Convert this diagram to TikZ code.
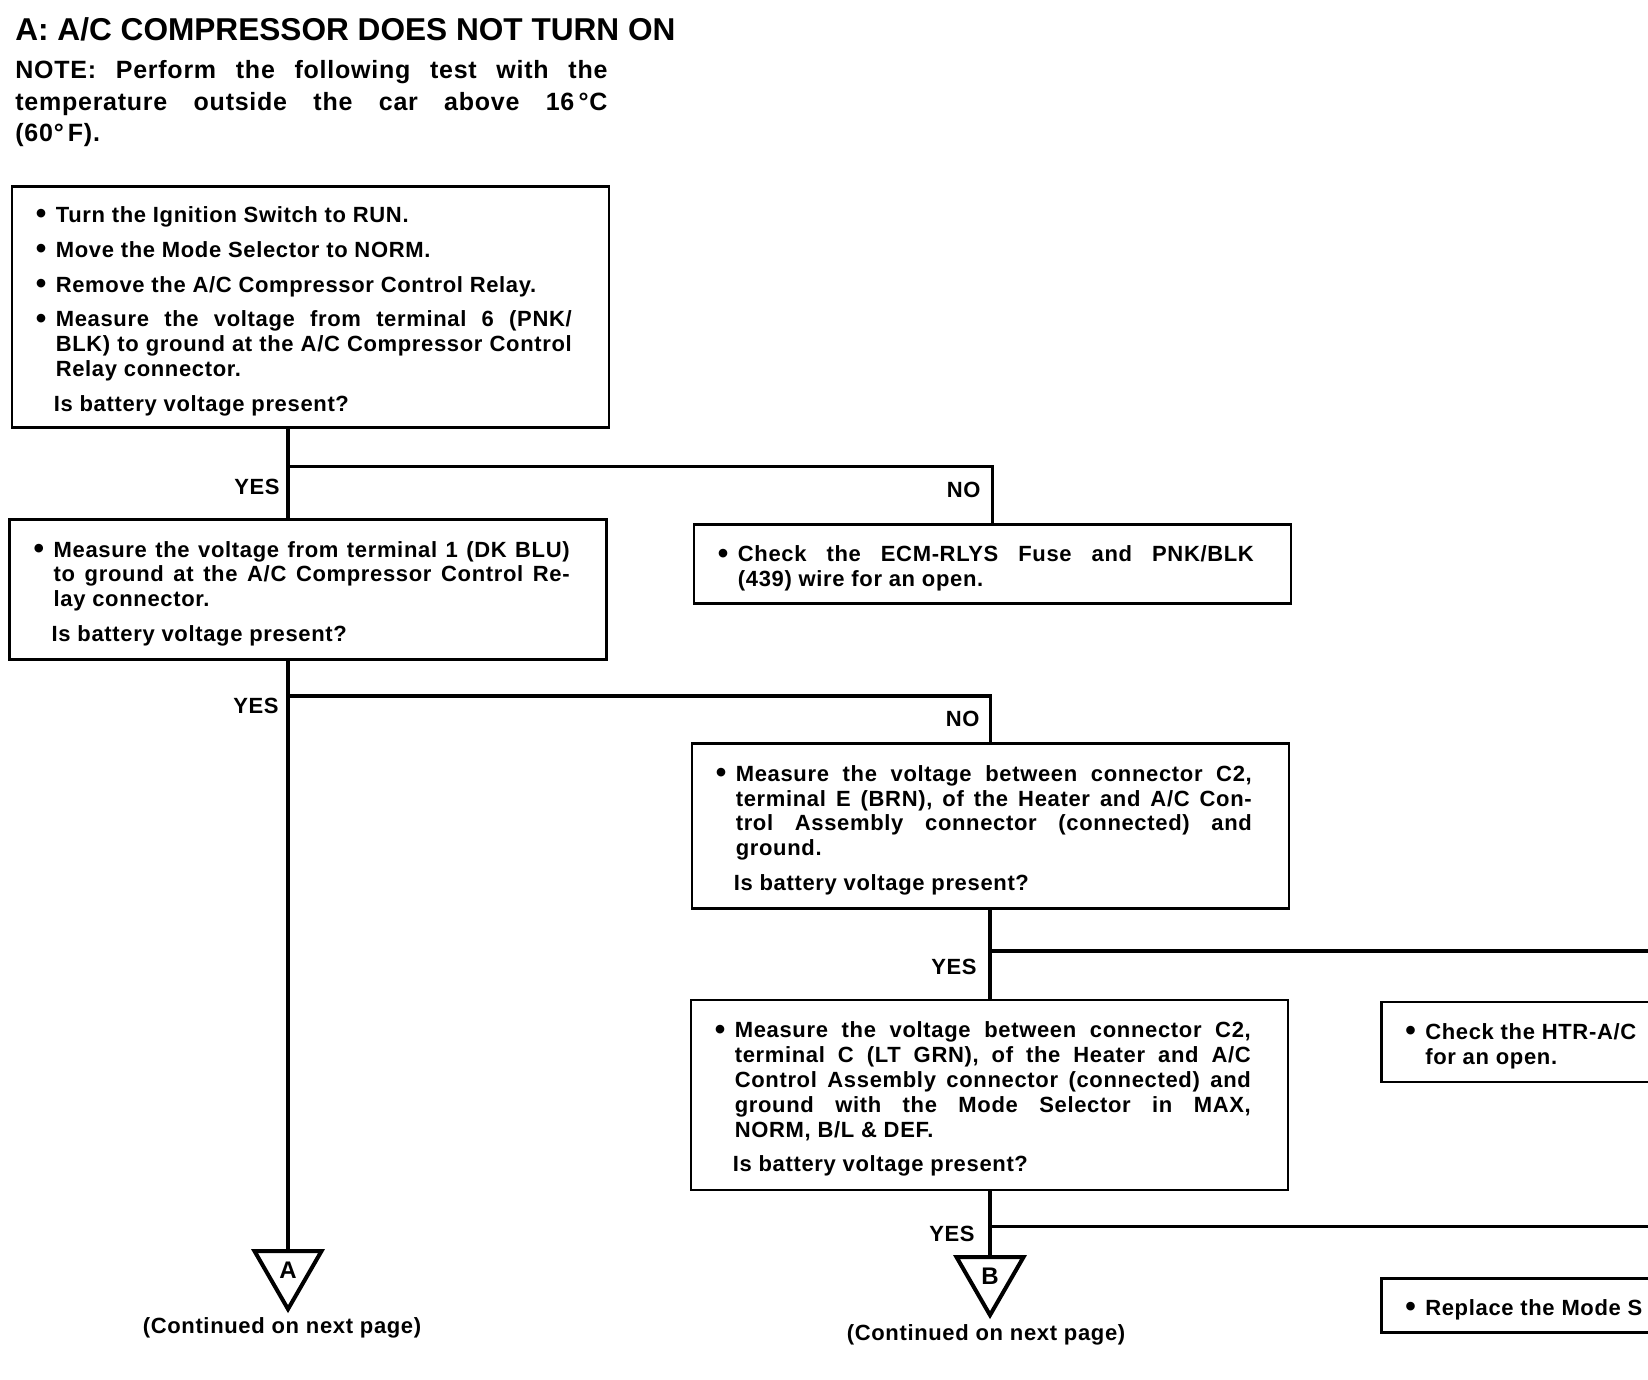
\documentclass[tikz,border=0pt]{standalone}
\usepackage{fontspec}
\setmainfont{Liberation Sans}
\newfontfamily\bodyfam{Liberation Sans}[LetterSpace=3]
\usepackage{tikz}
\usetikzlibrary{shapes.geometric,positioning}

\newcommand{\bodyfont}{\bodyfam\bfseries\fontsize{11}{12.4}\selectfont}
\newcommand{\bitem}[1]{\par\noindent\rightskip=6.5pt\hangindent=10pt\hangafter=1\makebox[10pt][l]{\raisebox{-0.6pt}{\fontsize{15}{12.4}\selectfont\textbullet}}#1\par}
\newcommand{\bask}[1]{\par\noindent\rightskip=6.5pt\hspace*{9pt}#1\par}
\newcommand{\gap}{\par\vspace{5pt}}

\tikzset{
  box/.style={draw, line width=1.3pt, anchor=north west, align=justify, text width=274.5pt, inner xsep=12pt, inner ysep=2pt, font=\bodyfont},
  flow/.style={line width=1.8pt},
  lbl/.style={anchor=east, inner sep=0pt, font=\bodyfont},
  tri/.style={draw, line width=2pt, regular polygon, regular polygon sides=3, shape border rotate=180, minimum size=38.7pt, inner sep=0pt, font=\bodyfam\bfseries\fontsize{12}{12}\selectfont},
  cont/.style={inner sep=0pt, font=\bodyfont}
}

\begin{document}
\begin{tikzpicture}[x=0.5pt,y=-0.5pt]
  \useasboundingbox (0,0) rectangle (1648,1380);
  \clip (0,0) rectangle (1648,1380);

  \node[anchor=base west, inner sep=0pt, font=\bfseries\fontsize{15.8}{19}\selectfont] (title) at (15,41) {A: A/C COMPRESSOR DOES NOT TURN ON};
  \node[anchor=north west, inner sep=0pt, text width=296pt, align=justify, font=\bodyfam\bfseries\fontsize{12.5}{15.75}\selectfont] (note) at (15,60)
    {NOTE: Perform the following test with the\linebreak temperature outside the car above 16\,°C\linebreak (60°\,F).};

  \node[box, minimum height=120.5pt] (ignition) at (10.5,185)
    {\bitem{Turn the Ignition Switch to RUN.}\gap
     \bitem{Move the Mode Selector to NORM.}\gap
     \bitem{Remove the A/C Compressor Control Relay.}\gap
     \bitem{Measure the voltage from terminal 6 (PNK/\linebreak BLK) to ground at the A/C Compressor Control\linebreak Relay connector.}\gap
     \bask{Is battery voltage present?}};
  \node[box, minimum height=70pt] (dkblu) at (8.4,518)
    {\bitem{Measure the voltage from terminal 1 (DK BLU)\linebreak to ground at the A/C Compressor Control Re-\linebreak lay connector.}\gap
     \bask{Is battery voltage present?}};
  \node[box, minimum height=39.5pt] (fuse) at (692.6,523.4)
    {\bitem{Check the ECM-RLYS Fuse and PNK/BLK\linebreak (439) wire for an open.}};
  \node[box, minimum height=82.5pt] (brn) at (690.5,742)
    {\bitem{Measure the voltage between connector C2,\linebreak terminal E (BRN), of the Heater and A/C Con-\linebreak trol Assembly connector (connected) and\linebreak ground.}\gap
     \bask{Is battery voltage present?}};
  \node[box, minimum height=95pt] (ltgrn) at (689.5,998.5)
    {\bitem{Measure the voltage between connector C2,\linebreak terminal C (LT GRN), of the Heater and A/C\linebreak Control Assembly connector (connected) and\linebreak ground with the Mode Selector in MAX,\linebreak NORM, B/L \& DEF.}\gap
     \bask{Is battery voltage present?}};
  \node[box, minimum height=40pt] (htr) at (1380,1000.6)
    {\bitem{Check the HTR-A/C\newline for an open.}};
  \node[box, minimum height=27pt] (modesel) at (1380,1277)
    {\bitem{Replace the Mode S}};

  \node[tri] (triA) at (288,1270.4) {A};
  \node[tri] (triB) at (990,1276.4) {B};
  \node[cont] (contA) at (282,1327.5) {(Continued on next page)};
  \node[cont] (contB) at (986,1335) {(Continued on next page)};

  \coordinate (trunkA) at (288,0);
  \coordinate (trunkB) at (990,0);
  \coordinate (brA1) at (288,466.6);
  \coordinate (brA2) at (288,695.8);
  \coordinate (brB1) at (990,951);
  \coordinate (brB2) at (990,1226.5);
  \coordinate (edgeB1) at (1700,951);
  \coordinate (edgeB2) at (1700,1226.5);

  \draw[flow] (ignition.south -| trunkA) -- (dkblu.north -| trunkA);
  \draw[flow] (brA1) -| (fuse.north);
  \draw[flow] (dkblu.south -| trunkA) -- (triA.north);
  \draw[flow] (brA2) -| (brn.north);
  \draw[flow] (brn.south -| trunkB) -- (ltgrn.north -| trunkB);
  \draw[flow] (brB1) -- (edgeB1);
  \draw[flow] (ltgrn.south -| trunkB) -- (triB.north);
  \draw[flow] (brB2) -- (edgeB2);

  \node[lbl] (yesA1) at (280,487) {YES};
  \node[lbl] (noA1) at (981,490) {NO};
  \node[lbl] (yesA2) at (279,706) {YES};
  \node[lbl] (noA2) at (980,719) {NO};
  \node[lbl] (yesB1) at (977,967) {YES};
  \node[lbl] (yesB2) at (975,1234) {YES};
\end{tikzpicture}
\end{document}
